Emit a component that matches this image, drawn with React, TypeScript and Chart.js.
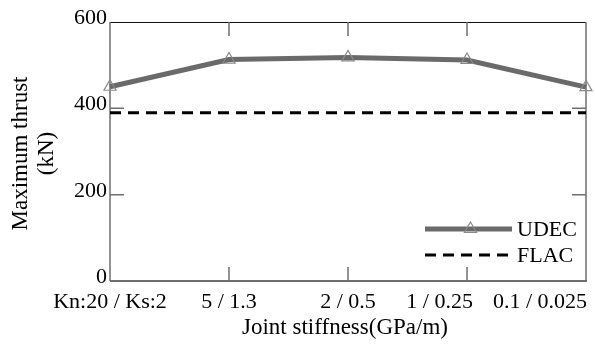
import { useEffect, useRef } from "react";
import { Chart, registerables } from "chart.js";

Chart.register(...registerables);

// Joint stiffness cases (Kn / Ks, GPa/m)
const categories = ["Kn:20 / Ks:2", "5 / 1.3", "2 / 0.5", "1 / 0.25", "0.1 / 0.025"];
// Maximum thrust (kN)
const udecThrust = [450, 513, 518, 512, 449];
const flacThrust = [390, 390, 390, 390, 390];
const yTicks = [0, 200, 400, 600];
const seriesNames = ["UDEC", "FLAC"];
const xTitle = "Joint stiffness(GPa/m)";
const yTitleLines = ["Maximum thrust", "(kN)"];

const FONT = "22px 'Liberation Serif', 'Times New Roman', serif";
const TITLE_FONT = "23px 'Liberation Serif', 'Times New Roman', serif";
const AXIS_GRAY = "#6f6f6f";
const UDEC_COLOR = "#6a6a6a";
const MARKER_COLOR = "#8a8a8a";

function drawTriangle(ctx: CanvasRenderingContext2D, x: number, y: number, r: number) {
  ctx.beginPath();
  ctx.moveTo(x, y - r);
  ctx.lineTo(x + r * Math.sin(Math.PI / 3), y + r / 2);
  ctx.lineTo(x - r * Math.sin(Math.PI / 3), y + r / 2);
  ctx.closePath();
  ctx.stroke();
}

const framePlugin = {
  id: "frame",
  beforeDatasetsDraw(chart: any) {
    const { ctx, chartArea, scales } = chart;
    const { left, right, top, bottom } = chartArea;
    const tickLen = 14;
    ctx.save();
    // top border
    ctx.strokeStyle = "#111";
    ctx.lineWidth = 1;
    ctx.beginPath();
    ctx.moveTo(left, top + 0.5);
    ctx.lineTo(right, top + 0.5);
    ctx.stroke();
    // left, bottom and right axes
    ctx.strokeStyle = AXIS_GRAY;
    ctx.lineWidth = 1.5;
    ctx.beginPath();
    ctx.moveTo(left, top);
    ctx.lineTo(left, bottom);
    ctx.moveTo(right, top);
    ctx.lineTo(right, bottom);
    ctx.stroke();
    ctx.lineWidth = 2;
    ctx.beginPath();
    ctx.moveTo(left, bottom);
    ctx.lineTo(right + 1, bottom);
    ctx.stroke();
    // inward ticks
    ctx.lineWidth = 1.5;
    ctx.beginPath();
    categories.forEach((_, i) => {
      if (i === 0 || i === categories.length - 1) return;
      const x = scales.x.getPixelForValue(i);
      ctx.moveTo(x, top);
      ctx.lineTo(x, top + tickLen);
      ctx.moveTo(x, bottom);
      ctx.lineTo(x, bottom - tickLen);
    });
    yTicks.forEach((v) => {
      if (v === yTicks[0] || v === yTicks[yTicks.length - 1]) return;
      const y = scales.y.getPixelForValue(v);
      ctx.moveTo(left, y);
      ctx.lineTo(left + tickLen, y);
      ctx.moveTo(right, y);
      ctx.lineTo(right - tickLen, y);
    });
    ctx.stroke();
    ctx.restore();
  },
  afterDraw(chart: any) {
    const { ctx, chartArea, scales } = chart;
    const { left, right, top, bottom } = chartArea;
    ctx.save();
    ctx.fillStyle = "#000";
    ctx.font = FONT;

    // y tick labels
    ctx.textAlign = "right";
    ctx.textBaseline = "alphabetic";
    yTicks.forEach((v) => {
      ctx.fillText(String(v), left - 3, scales.y.getPixelForValue(v) + 2);
    });

    // x tick labels, kept apart and inside the frame
    const widths = categories.map((c) => ctx.measureText(c).width);
    const lefts = categories.map((_, i) => scales.x.getPixelForValue(i) - widths[i] / 2);
    for (let i = categories.length - 1; i >= 0; i--) {
      const maxRight = i === categories.length - 1 ? right + 1 : lefts[i + 1] - 20;
      if (lefts[i] + widths[i] > maxRight) lefts[i] = maxRight - widths[i];
    }
    ctx.textAlign = "left";
    categories.forEach((c, i) => ctx.fillText(c, lefts[i], bottom + 27));

    // axis titles
    ctx.font = TITLE_FONT;
    ctx.textAlign = "center";
    ctx.fillText(xTitle, (left + right) / 2 - 3, bottom + 53);
    ctx.textBaseline = "middle";
    yTitleLines.forEach((line, i) => {
      ctx.save();
      ctx.translate(21 + i * 26, (top + bottom) / 2 + 2);
      ctx.rotate(-Math.PI / 2);
      ctx.fillText(line, 0, 0);
      ctx.restore();
    });

    // legend
    const lx0 = right - 161;
    const lx1 = right - 74;
    const ly = [bottom - 52, bottom - 26];
    ctx.strokeStyle = UDEC_COLOR;
    ctx.lineWidth = 5;
    ctx.beginPath();
    ctx.moveTo(lx0, ly[0]);
    ctx.lineTo(lx1, ly[0]);
    ctx.stroke();
    ctx.strokeStyle = MARKER_COLOR;
    ctx.lineWidth = 1.2;
    drawTriangle(ctx, (lx0 + lx1) / 2 + 2, ly[0], 7);
    ctx.strokeStyle = "#000";
    ctx.lineWidth = 3;
    ctx.setLineDash([11, 7]);
    ctx.beginPath();
    ctx.moveTo(lx0, ly[1]);
    ctx.lineTo(lx1, ly[1]);
    ctx.stroke();
    ctx.setLineDash([]);
    ctx.font = FONT;
    ctx.textAlign = "left";
    ctx.textBaseline = "middle";
    seriesNames.forEach((n, i) => ctx.fillText(n, lx1 + 5, ly[i] + 1));
    ctx.restore();
  },
};

export default function App() {
  const canvasRef = useRef<HTMLCanvasElement | null>(null);

  useEffect(() => {
    if (!canvasRef.current) return;
    const chart = new Chart(canvasRef.current, {
      type: "line",
      data: {
        labels: categories,
        datasets: [
          {
            label: seriesNames[0],
            data: udecThrust,
            borderColor: UDEC_COLOR,
            borderWidth: 5,
            pointStyle: "triangle",
            pointRadius: 7,
            pointBorderColor: MARKER_COLOR,
            pointBorderWidth: 1.2,
            pointBackgroundColor: "rgba(0,0,0,0)",
            tension: 0,
            clip: false,
          },
          {
            label: seriesNames[1],
            data: flacThrust,
            borderColor: "#000",
            borderWidth: 3,
            borderDash: [11, 7],
            pointRadius: 0,
            tension: 0,
            clip: false,
          },
        ],
      },
      options: {
        responsive: false,
        animation: false,
        layout: { padding: { left: 110, right: 9, top: 22, bottom: 66 } },
        scales: {
          x: { type: "category", display: false, offset: false },
          y: { type: "linear", display: false, min: 0, max: 600 },
        },
        plugins: {
          legend: { display: false },
          title: { display: false },
          tooltip: { enabled: false },
        },
      },
      plugins: [framePlugin],
    });
    return () => chart.destroy();
  }, []);

  return (
    <div style={{ position: "absolute", left: 0, top: 0, width: 595, height: 347, background: "#fff" }}>
      <canvas ref={canvasRef} width={595} height={347} style={{ display: "block" }} />
    </div>
  );
}
